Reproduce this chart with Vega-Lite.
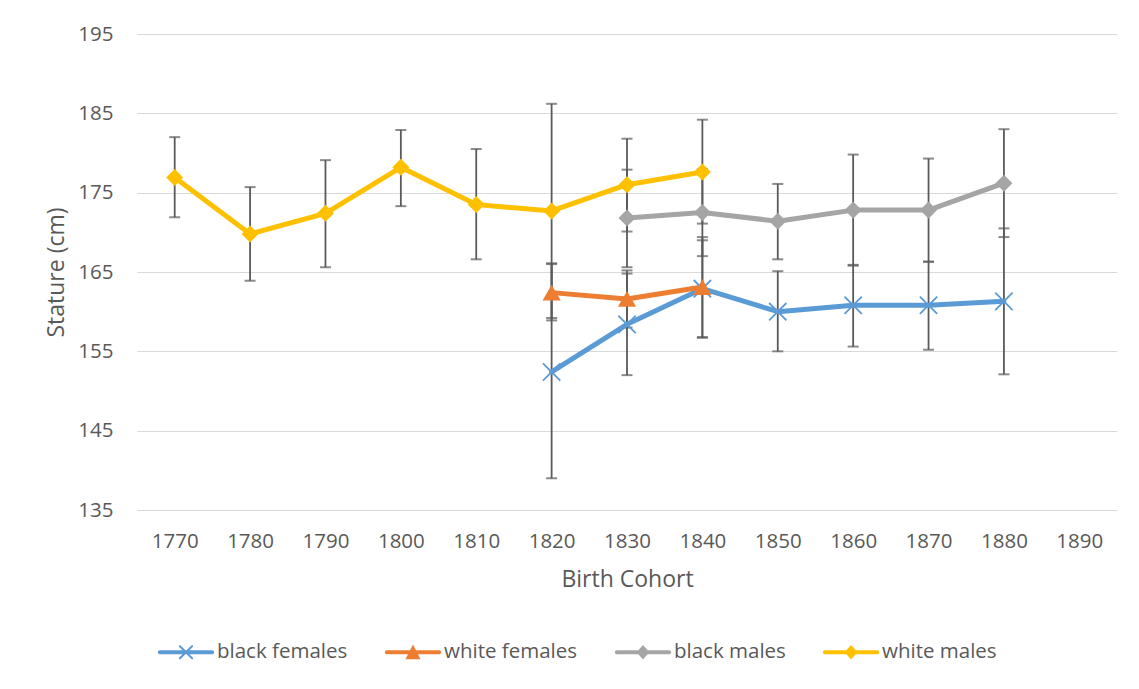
{
  "$schema": "https://vega.github.io/schema/vega-lite/v6.json",
  "autosize": {"type": "none"},
  "width": 980,
  "height": 476,
  "padding": {"left": 137, "top": 34, "right": 22, "bottom": 179},
  "background": "white",
  "config": {
    "view": {"stroke": null},
    "font": "Open Sans",
    "axis": {"labelFont": "Open Sans", "titleFont": "Open Sans", "labelColor": "#595959", "titleColor": "#595959", "titleFontWeight": "normal"},
    "legend": {"labelFont": "Open Sans"}
  },
  "data": {
    "values": [
      {"cohort": "1820", "series": "black females", "mean": 152.4, "lo": 139.0, "hi": 166.0},
      {"cohort": "1830", "series": "black females", "mean": 158.4, "lo": 152.0, "hi": 164.8},
      {"cohort": "1840", "series": "black females", "mean": 162.9, "lo": 156.7, "hi": 169.0},
      {"cohort": "1850", "series": "black females", "mean": 160.0, "lo": 155.0, "hi": 165.1},
      {"cohort": "1860", "series": "black females", "mean": 160.8, "lo": 155.6, "hi": 165.9},
      {"cohort": "1870", "series": "black females", "mean": 160.8, "lo": 155.2, "hi": 166.3},
      {"cohort": "1880", "series": "black females", "mean": 161.3, "lo": 152.1, "hi": 170.5},
      {"cohort": "1820", "series": "white females", "mean": 162.4, "lo": 158.9, "hi": 166.1},
      {"cohort": "1830", "series": "white females", "mean": 161.6, "lo": 158.0, "hi": 165.2},
      {"cohort": "1840", "series": "white females", "mean": 163.1, "lo": 156.8, "hi": 169.4},
      {"cohort": "1830", "series": "black males", "mean": 171.8, "lo": 165.6, "hi": 177.9},
      {"cohort": "1840", "series": "black males", "mean": 172.5, "lo": 167.0, "hi": 178.0},
      {"cohort": "1850", "series": "black males", "mean": 171.4, "lo": 166.6, "hi": 176.1},
      {"cohort": "1860", "series": "black males", "mean": 172.8, "lo": 165.8, "hi": 179.8},
      {"cohort": "1870", "series": "black males", "mean": 172.8, "lo": 166.3, "hi": 179.3},
      {"cohort": "1880", "series": "black males", "mean": 176.2, "lo": 169.4, "hi": 183.0},
      {"cohort": "1770", "series": "white males", "mean": 176.9, "lo": 171.9, "hi": 182.0},
      {"cohort": "1780", "series": "white males", "mean": 169.8, "lo": 163.9, "hi": 175.7},
      {"cohort": "1790", "series": "white males", "mean": 172.4, "lo": 165.6, "hi": 179.1},
      {"cohort": "1800", "series": "white males", "mean": 178.2, "lo": 173.3, "hi": 182.9},
      {"cohort": "1810", "series": "white males", "mean": 173.5, "lo": 166.6, "hi": 180.5},
      {"cohort": "1820", "series": "white males", "mean": 172.7, "lo": 159.2, "hi": 186.2},
      {"cohort": "1830", "series": "white males", "mean": 176.0, "lo": 170.1, "hi": 181.8},
      {"cohort": "1840", "series": "white males", "mean": 177.6, "lo": 171.1, "hi": 184.2}
    ]
  },
  "encoding": {
    "x": {
      "field": "cohort", "type": "ordinal",
      "scale": {"type": "point", "domain": ["1770","1780","1790","1800","1810","1820","1830","1840","1850","1860","1870","1880","1890"], "padding": 0.5},
      "axis": {"title": "Birth Cohort", "labelAngle": 0, "labelFontSize": 20.5, "titleFontSize": 23, "ticks": false, "domain": false, "labelPadding": 21, "titlePadding": 17}
    }
  },
  "layer": [
    {
      "mark": {"type": "rule", "color": "#5A5A5A", "strokeWidth": 1.8},
      "encoding": {
        "y": {"field": "lo", "type": "quantitative",
          "scale": {"domain": [135, 195], "nice": false, "zero": false},
          "axis": {"title": "Stature (cm)", "values": [135,145,155,165,175,185,195], "labelFontSize": 20.5, "titleFontSize": 23, "ticks": false, "domain": false, "labelPadding": 24, "titlePadding": 9, "grid": true, "gridColor": "#D9D9D9", "gridWidth": 1.2}},
        "y2": {"field": "hi"}
      }
    },
    {
      "mark": {"type": "tick", "color": "#5A5A5A", "size": 11, "thickness": 2},
      "encoding": {"y": {"field": "lo", "type": "quantitative"}}
    },
    {
      "mark": {"type": "tick", "color": "#5A5A5A", "size": 11, "thickness": 2},
      "encoding": {"y": {"field": "hi", "type": "quantitative"}}
    },
    {
      "mark": {"type": "line", "strokeWidth": 5, "strokeJoin": "round", "strokeCap": "round"},
      "encoding": {
        "y": {"field": "mean", "type": "quantitative"},
        "stroke": {"field": "series", "type": "nominal",
          "scale": {"domain": ["white males","black males","white females","black females"], "range": ["#FFC000","#A5A5A5","#ED7D31","#5B9BD5"]},
          "legend": null}
      }
    },
    {
      "transform": [{"filter": "datum.series === 'black females'"}],
      "mark": {"type": "point", "filled": false, "shape": "M-1,-1L1,1M-1,1L1,-1", "size": 300, "strokeWidth": 1.8, "opacity": 1},
      "encoding": {
        "y": {"field": "mean", "type": "quantitative"},
        "stroke": {"field": "series", "type": "nominal", "legend": null}
      }
    },
    {
      "transform": [{"filter": "datum.series === 'white females'"}],
      "mark": {"type": "point", "filled": true, "shape": "triangle-up", "size": 330, "opacity": 1, "strokeWidth": 0},
      "encoding": {
        "y": {"field": "mean", "type": "quantitative"},
        "fill": {"field": "series", "type": "nominal",
          "scale": {"domain": ["white males","black males","white females","black females"], "range": ["#FFC000","#A5A5A5","#ED7D31","#5B9BD5"]},
          "legend": null}
      }
    },
    {
      "transform": [{"filter": "datum.series === 'black males' || datum.series === 'white males'"}],
      "mark": {"type": "point", "filled": true, "shape": "diamond", "size": 290, "opacity": 1, "strokeWidth": 0},
      "encoding": {
        "y": {"field": "mean", "type": "quantitative"},
        "fill": {"field": "series", "type": "nominal", "legend": null}
      }
    },
    {
      "mark": {"type": "point", "filled": true, "opacity": 0},
      "encoding": {
        "y": {"field": "mean", "type": "quantitative"},
        "color": {"field": "series", "type": "nominal",
          "scale": {"domain": ["black females","white females","black males","white males"], "range": ["#5B9BD5","#ED7D31","#A5A5A5","#FFC000"]},
          "legend": {"title": null, "orient": "none", "legendX": 21, "legendY": 590, "direction": "horizontal", "symbolSize": 3136, "symbolOpacity": 1, "symbolStrokeWidth": 0, "labelFontSize": 20.5, "labelColor": "#595959", "labelOffset": 3, "columnPadding": 36, "padding": 0, "labelLimit": 300}},
        "shape": {"field": "series", "type": "nominal",
          "scale": {"domain": ["black females","white females","black males","white males"],
            "range": [
              "M-0.93,-0.075L0.93,-0.075A0.075,0.075 0 0 1 0.93,0.075L-0.93,0.075A0.075,0.075 0 0 1 -0.93,-0.075ZM-0.25,-0.25L-0.2,-0.25L0.25,0.2L0.25,0.25L0.2,0.25L-0.25,-0.2ZM0.25,-0.25L0.25,-0.2L-0.2,0.25L-0.25,0.25L-0.25,0.2L0.2,-0.25Z",
              "M-0.93,-0.075L0.93,-0.075A0.075,0.075 0 0 1 0.93,0.075L-0.93,0.075A0.075,0.075 0 0 1 -0.93,-0.075ZM0,-0.28L0.27,0.25L-0.27,0.25Z",
              "M-0.93,-0.075L0.93,-0.075A0.075,0.075 0 0 1 0.93,0.075L-0.93,0.075A0.075,0.075 0 0 1 -0.93,-0.075ZM-0.23,0L0,-0.26L0.23,0L0,0.26Z",
              "M-0.93,-0.075L0.93,-0.075A0.075,0.075 0 0 1 0.93,0.075L-0.93,0.075A0.075,0.075 0 0 1 -0.93,-0.075ZM-0.23,0L0,-0.26L0.23,0L0,0.26Z"
            ]},
          "legend": {"title": null, "orient": "none", "legendX": 21, "legendY": 590, "direction": "horizontal", "symbolSize": 3136, "symbolOpacity": 1, "symbolStrokeWidth": 0, "labelFontSize": 20.5, "labelColor": "#595959", "labelOffset": 3, "columnPadding": 36, "padding": 0, "labelLimit": 300}}
      }
    }
  ]
}
